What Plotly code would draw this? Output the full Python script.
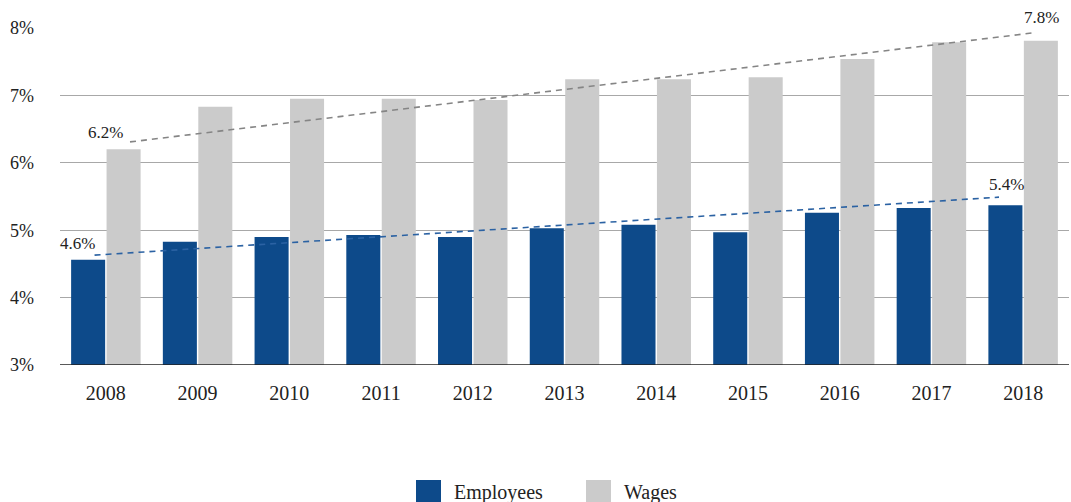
import plotly.graph_objects as go

# Share of total, by year
years = ["2008", "2009", "2010", "2011", "2012", "2013", "2014", "2015", "2016", "2017", "2018"]
employees = [4.56, 4.83, 4.90, 4.93, 4.90, 5.03, 5.08, 4.97, 5.26, 5.33, 5.37]
wages = [6.20, 6.83, 6.95, 6.95, 6.93, 7.24, 7.24, 7.27, 7.54, 7.79, 7.81]

# Trend line end values (first year, last year)
employees_trend = [4.63, 5.49]
wages_trend = [6.31, 7.93]

y_ticks = [3, 4, 5, 6, 7, 8]

BLUE = "#0d4a8a"
GREY = "#cbcbcb"
TEXT = "#222222"
FONT = "Liberation Serif"

W, H = 1071, 502
M_L, M_R, M_T, M_B = 60, 2, 28, 137
BARGAP = 0.227

xs = list(range(len(years)))
half = (1 - BARGAP) / 4          # offset of each bar centre from the category centre
inset = 0.07                     # trend lines stop a little inside the bar centres
n_last = len(years) - 1

fig = go.Figure()
fig.add_trace(go.Bar(x=xs, y=employees, name="Employees", marker_color=BLUE,
                     marker_line_width=0))
fig.add_trace(go.Bar(x=xs, y=wages, name="Wages", marker_color=GREY,
                     marker_line_width=0))

fig.add_trace(go.Scatter(
    x=[-half + inset, n_last - half - inset], y=employees_trend, mode="lines",
    line=dict(color="#2b62a3", width=1.6, dash="6px,5px"), hoverinfo="skip"))
fig.add_trace(go.Scatter(
    x=[half + inset, n_last + half - inset], y=wages_trend, mode="lines",
    line=dict(color="#858585", width=1.6, dash="6px,5px"), hoverinfo="skip"))

# Value labels at the first and last year of each series
labels = [
    (-half, employees[0], -11, 16),
    (half, wages[0], -18, 17),
    (n_last - half, employees[-1], 1, 21),
    (n_last + half, wages[-1], 1, 23),
]
for x, v, dx, dy in labels:
    fig.add_annotation(x=x, y=v, text=f"{v:.1f}%", showarrow=False,
                       xanchor="center", yanchor="middle", xshift=dx, yshift=dy,
                       font=dict(family=FONT, size=17, color=TEXT))

# Legend drawn as large square swatches under the plot
plot_w = W - M_L - M_R
plot_h = H - M_T - M_B


def px_x(p):
    return (p - M_L) / plot_w


def px_y(p):
    return (H - M_B - p) / plot_h


legend_items = [("Employees", BLUE, 416, 452), ("Wages", GREY, 586, 622)]
for name, color, sx, tx in legend_items:
    fig.add_shape(type="rect", xref="paper", yref="paper",
                  x0=px_x(sx), x1=px_x(sx + 25), y0=px_y(480), y1=px_y(503),
                  fillcolor=color, line_width=0)
    fig.add_annotation(xref="paper", yref="paper", x=px_x(tx), y=px_y(492),
                       text=name, showarrow=False, xanchor="left", yanchor="middle",
                       font=dict(family=FONT, size=20, color=TEXT))

fig.update_layout(
    width=W, height=H,
    margin=dict(l=M_L, r=M_R, t=M_T, b=M_B, pad=0),
    barmode="group", bargap=BARGAP, bargroupgap=0.04,
    plot_bgcolor="white", paper_bgcolor="white",
    showlegend=False,
    font=dict(family=FONT, size=20, color=TEXT),
)
fig.update_xaxes(
    range=[-0.5, n_last + 0.5], tickvals=xs, ticktext=years,
    showgrid=False, zeroline=False, showline=False, ticks="",
    ticklabelstandoff=14, tickfont=dict(family=FONT, size=20, color=TEXT),
)
fig.update_yaxes(
    range=[3, 8], tickvals=y_ticks, ticktext=[f"{t}%" for t in y_ticks],
    showgrid=True, gridcolor="#a8a8a8", gridwidth=1.3, zeroline=False,
    showline=False, ticks="", ticklabelstandoff=25,
    tickfont=dict(family=FONT, size=18, color=TEXT),
)
# Baseline at 3%
fig.add_shape(type="line", xref="paper", yref="y", x0=0, x1=1, y0=3, y1=3,
              line=dict(color="#222222", width=1.5), layer="above")

fig.write_html("out.html")
